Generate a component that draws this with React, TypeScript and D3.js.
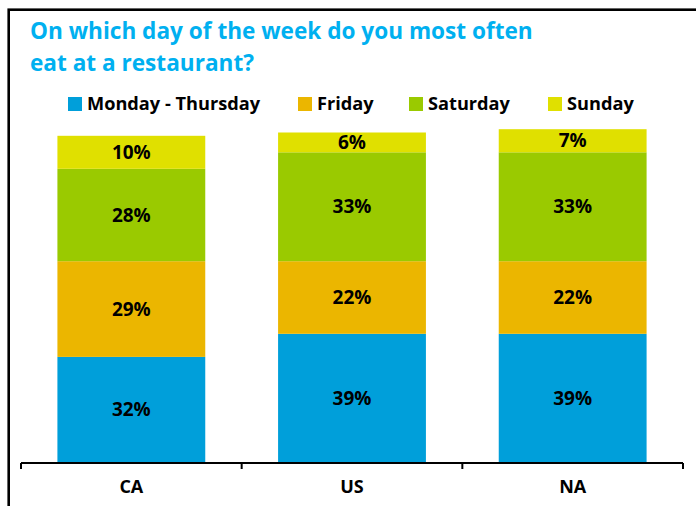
import React from 'react'
import * as d3 from 'd3'

const categories = ['CA', 'US', 'NA']
const seriesNames = ['Monday - Thursday', 'Friday', 'Saturday', 'Sunday']
const mondayThursday = [32, 39, 39]
const friday = [29, 22, 22]
const saturday = [28, 33, 33]
const sunday = [10, 6, 7]
const seriesColors = ['#009fda', '#ebb600', '#9aca00', '#e0e000']
const titleLines = ['On which day of the week do you most often', 'eat at a restaurant?']

const width = 696
const height = 506
const font = "'Open Sans', 'Noto Sans', sans-serif"

const rows = categories.map((c, i) => ({
  category: c,
  'Monday - Thursday': mondayThursday[i],
  Friday: friday[i],
  Saturday: saturday[i],
  Sunday: sunday[i],
}))

const App: React.FC = () => {
  const x = d3
    .scaleBand<string>()
    .domain(categories)
    .range([21, 683])
    .paddingInner(0.33)
    .paddingOuter(0.165)

  const y = d3.scaleLinear().domain([0, 100]).range([462.5, 132.5])
  const color = d3.scaleOrdinal<string, string>().domain(seriesNames).range(seriesColors)

  const stacked = d3.stack<any>().keys(seriesNames)(rows)

  // tick marks sit on the band boundaries
  const ticks = d3.range(categories.length + 1).map((i) => x.range()[0] + i * x.step())

  // legend layout (x of each swatch)
  const legendX = [68, 298, 409, 548]

  return (
    <svg
      width={width}
      height={height}
      style={{ position: 'absolute', left: 0, top: 0, background: '#fff' }}
    >
      <rect x={8.7} y={9.7} width={width + 20} height={height + 20} fill="none" stroke="#000" strokeWidth={2.6} />

      {titleLines.map((t, i) => (
        <text
          key={t}
          x={30}
          y={39 + i * 32}
          fill="#00b0f0"
          fontFamily={font}
          fontWeight={700}
          fontSize={22.6}
        >
          {t}
        </text>
      ))}

      {seriesNames.map((s, i) => (
        <g key={s} transform={`translate(${legendX[i]}, 97)`}>
          <rect width={14} height={14} fill={color(s)} />
          <text x={19} y={7} dy="0.35em" fontFamily={font} fontWeight={700} fontSize={18.2} fill="#000">
            {s}
          </text>
        </g>
      ))}

      {stacked.map((layer) => (
        <g key={layer.key} fill={color(layer.key)}>
          {layer.map((d) => (
            <rect
              key={d.data.category}
              x={x(d.data.category)}
              y={y(d[1])}
              width={x.bandwidth()}
              height={y(d[0]) - y(d[1])}
            />
          ))}
        </g>
      ))}

      {stacked.map((layer) => (
        <g key={layer.key + '-labels'}>
          {layer.map((d) => (
            <text
              key={d.data.category}
              x={(x(d.data.category) ?? 0) + x.bandwidth() / 2}
              y={(y(d[0]) + y(d[1])) / 2}
              dy="0.35em"
              textAnchor="middle"
              fontFamily={font}
              fontWeight={700}
              fontSize={19}
              fill="#000"
            >
              {`${d.data[layer.key]}%`}
            </text>
          ))}
        </g>
      ))}

      <line x1={ticks[0]} x2={ticks[ticks.length - 1]} y1={463} y2={463} stroke="#000" strokeWidth={2} />
      {ticks.map((t) => (
        <line key={t} x1={t} x2={t} y1={463} y2={469} stroke="#000" strokeWidth={2} />
      ))}

      {categories.map((c) => (
        <text
          key={c}
          x={(x(c) ?? 0) + x.bandwidth() / 2}
          y={487}
          dy="0.35em"
          textAnchor="middle"
          fontFamily={font}
          fontWeight={700}
          fontSize={18}
          fill="#000"
        >
          {c}
        </text>
      ))}
    </svg>
  )
}

export default App
